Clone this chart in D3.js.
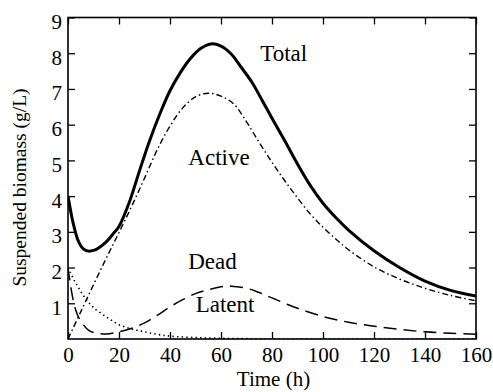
<!DOCTYPE html>
<html>
<head>
<meta charset="utf-8">
<script src="https://cdn.jsdelivr.net/npm/d3@7/dist/d3.min.js"></script>
<style>
  html, body { margin: 0; padding: 0; background: #fff; }
  #chart text { font-family: "Liberation Serif", "Times New Roman", Times, "DejaVu Serif", serif; fill: #000; }
</style>
</head>
<body>
<svg id="chart" width="493" height="392"></svg>
<script>
// ---- data ----
const totalT   = [0, 1, 2, 4, 6, 8, 10, 12, 15, 18, 20, 24, 28, 32, 36, 40, 44, 48, 52, 56, 60, 64, 68, 72, 76, 80, 85, 90, 95, 100, 105, 110, 120, 130, 140, 150, 160];
const totalV   = [4.0, 3.6, 3.25, 2.75, 2.52, 2.46, 2.48, 2.55, 2.72, 2.97, 3.15, 3.82, 4.7, 5.55, 6.3, 6.95, 7.45, 7.85, 8.13, 8.26, 8.2, 7.98, 7.6, 7.2, 6.7, 6.18, 5.55, 4.9, 4.3, 3.8, 3.4, 3.05, 2.47, 2.0, 1.62, 1.36, 1.2];

const activeT  = [0, 5, 10, 15, 20, 25, 30, 35, 40, 45, 50, 55, 60, 65, 70, 75, 80, 85, 90, 95, 100, 105, 110, 120, 130, 140, 150, 160];
const activeV  = [0, 0.76, 1.52, 2.26, 2.98, 3.72, 4.5, 5.3, 5.96, 6.47, 6.78, 6.88, 6.8, 6.58, 6.08, 5.5, 4.95, 4.43, 3.95, 3.5, 3.13, 2.8, 2.5, 2.02, 1.68, 1.42, 1.22, 1.07];

const latentT  = [0, 1, 2, 3, 4, 6, 8, 10, 15, 20, 25, 30, 35, 40, 45, 50, 55, 60, 64, 70, 75, 80, 85, 90, 100, 110, 120, 130, 140, 150, 160];
const latentV  = [2.0, 1.5, 1.1, 0.82, 0.63, 0.4, 0.25, 0.18, 0.14, 0.2, 0.3, 0.45, 0.66, 0.9, 1.1, 1.27, 1.38, 1.46, 1.48, 1.42, 1.3, 1.15, 1.0, 0.86, 0.63, 0.47, 0.36, 0.27, 0.2, 0.16, 0.13];

const deadT    = [0, 2, 4, 6, 8, 10, 15, 20, 25, 30, 35, 40, 50, 60, 70, 80, 100, 160];
const deadV    = [2.0, 1.7, 1.45, 1.22, 1.03, 0.88, 0.62, 0.4, 0.28, 0.2, 0.13, 0.08, 0.04, 0.02, 0.01, 0.0, 0.0, 0.0];

const xTicks = [0, 20, 40, 60, 80, 100, 120, 140, 160];
const yTicks = [1, 2, 3, 4, 5, 6, 7, 8, 9];

const xTitle = "Time (h)";
const yTitle = "Suspended biomass (g/L)";
const curveLabels = ["Total", "Active", "Dead", "Latent"];

(function () {
  const FONT = "'Liberation Serif', 'Times New Roman', Times, 'DejaVu Serif', serif";
  // ---- layout ----
  const svg = d3.select("#chart");
  const L = 68, R = 476, T = 17.5, B = 339;
  const x = d3.scaleLinear().domain([0, 160]).range([L, R]);
  const y = d3.scaleLinear().domain([0, 9]).range([B, T]);

  const zip = (ts, vs) => ts.map((t, i) => ({ t, v: vs[i] }));
  const line = d3.line().x(d => x(d.t)).y(d => y(d.v)).curve(d3.curveCatmullRom.alpha(0.5));

  svg.append("clipPath").attr("id", "clip")
    .append("rect").attr("x", L).attr("y", T).attr("width", R - L).attr("height", B - T);

  const g = svg.append("g").attr("clip-path", "url(#clip)");

  g.append("path").datum(zip(deadT, deadV)).attr("d", line)
    .attr("fill", "none").attr("stroke", "#000").attr("stroke-width", 1.6)
    .attr("stroke-dasharray", "1.4,3.2");
  g.append("path").datum(zip(latentT, latentV)).attr("d", line)
    .attr("fill", "none").attr("stroke", "#000").attr("stroke-width", 1.5)
    .attr("stroke-dasharray", "13,7");
  g.append("path").datum(zip(activeT, activeV)).attr("d", line)
    .attr("fill", "none").attr("stroke", "#000").attr("stroke-width", 1.4)
    .attr("stroke-dasharray", "6,3,1.5,3");
  g.append("path").datum(zip(totalT, totalV)).attr("d", line)
    .attr("fill", "none").attr("stroke", "#000").attr("stroke-width", 3);

  // ---- axes (ticks inward on all sides) ----
  const tickLen = 7;
  const fs = 21;
  const axB = d3.axisBottom(x).tickValues(xTicks).tickSize(-tickLen).tickPadding(6);
  const axT = d3.axisTop(x).tickValues(xTicks).tickSize(-tickLen).tickFormat("");
  const axL = d3.axisLeft(y).tickValues(yTicks).tickSize(-tickLen).tickPadding(6);
  const axR = d3.axisRight(y).tickValues(yTicks).tickSize(-tickLen).tickFormat("");

  function style(sel) {
    sel.attr("font-family", FONT);
    sel.select(".domain").remove();
    sel.selectAll(".tick line").attr("stroke", "#000").attr("stroke-width", 1.3);
    sel.selectAll(".tick text").attr("font-size", fs).attr("font-family", FONT).attr("fill", "#000");
  }
  svg.append("g").attr("transform", `translate(0,${B})`).call(axB).call(style)
    .selectAll(".tick text").attr("y", 22.5).attr("dy", 0);
  svg.append("g").attr("transform", `translate(0,${T})`).call(axT).call(style);
  svg.append("g").attr("transform", `translate(${L},0)`).call(axL).call(style)
    .selectAll(".tick text").attr("dy", "0.52em");
  svg.append("g").attr("transform", `translate(${R},0)`).call(axR).call(style);

  svg.append("rect").attr("x", L).attr("y", T).attr("width", R - L).attr("height", B - T)
    .attr("fill", "none").attr("stroke", "#000").attr("stroke-width", 1.6);

  // axis titles
  svg.append("text").attr("x", 273.5).attr("y", 386)
    .attr("text-anchor", "middle").attr("font-size", 21).attr("font-family", FONT).text(xTitle);
  svg.append("text").attr("transform", `translate(26,187.5) rotate(-90)`)
    .attr("text-anchor", "middle").attr("font-size", 19.5).attr("font-family", FONT).text(yTitle);

  // curve labels (centre x, baseline y in pixels)
  const labelPos = [[283.7, 60.7], [219, 165], [212.5, 269.3], [225, 311.7]];
  svg.selectAll(".clabel").data(curveLabels).enter().append("text")
    .attr("class", "clabel")
    .attr("x", (d, i) => labelPos[i][0]).attr("y", (d, i) => labelPos[i][1])
    .attr("text-anchor", "middle").attr("font-size", 23).attr("font-family", FONT)
    .text(d => d);
})();
</script>
</body>
</html>
